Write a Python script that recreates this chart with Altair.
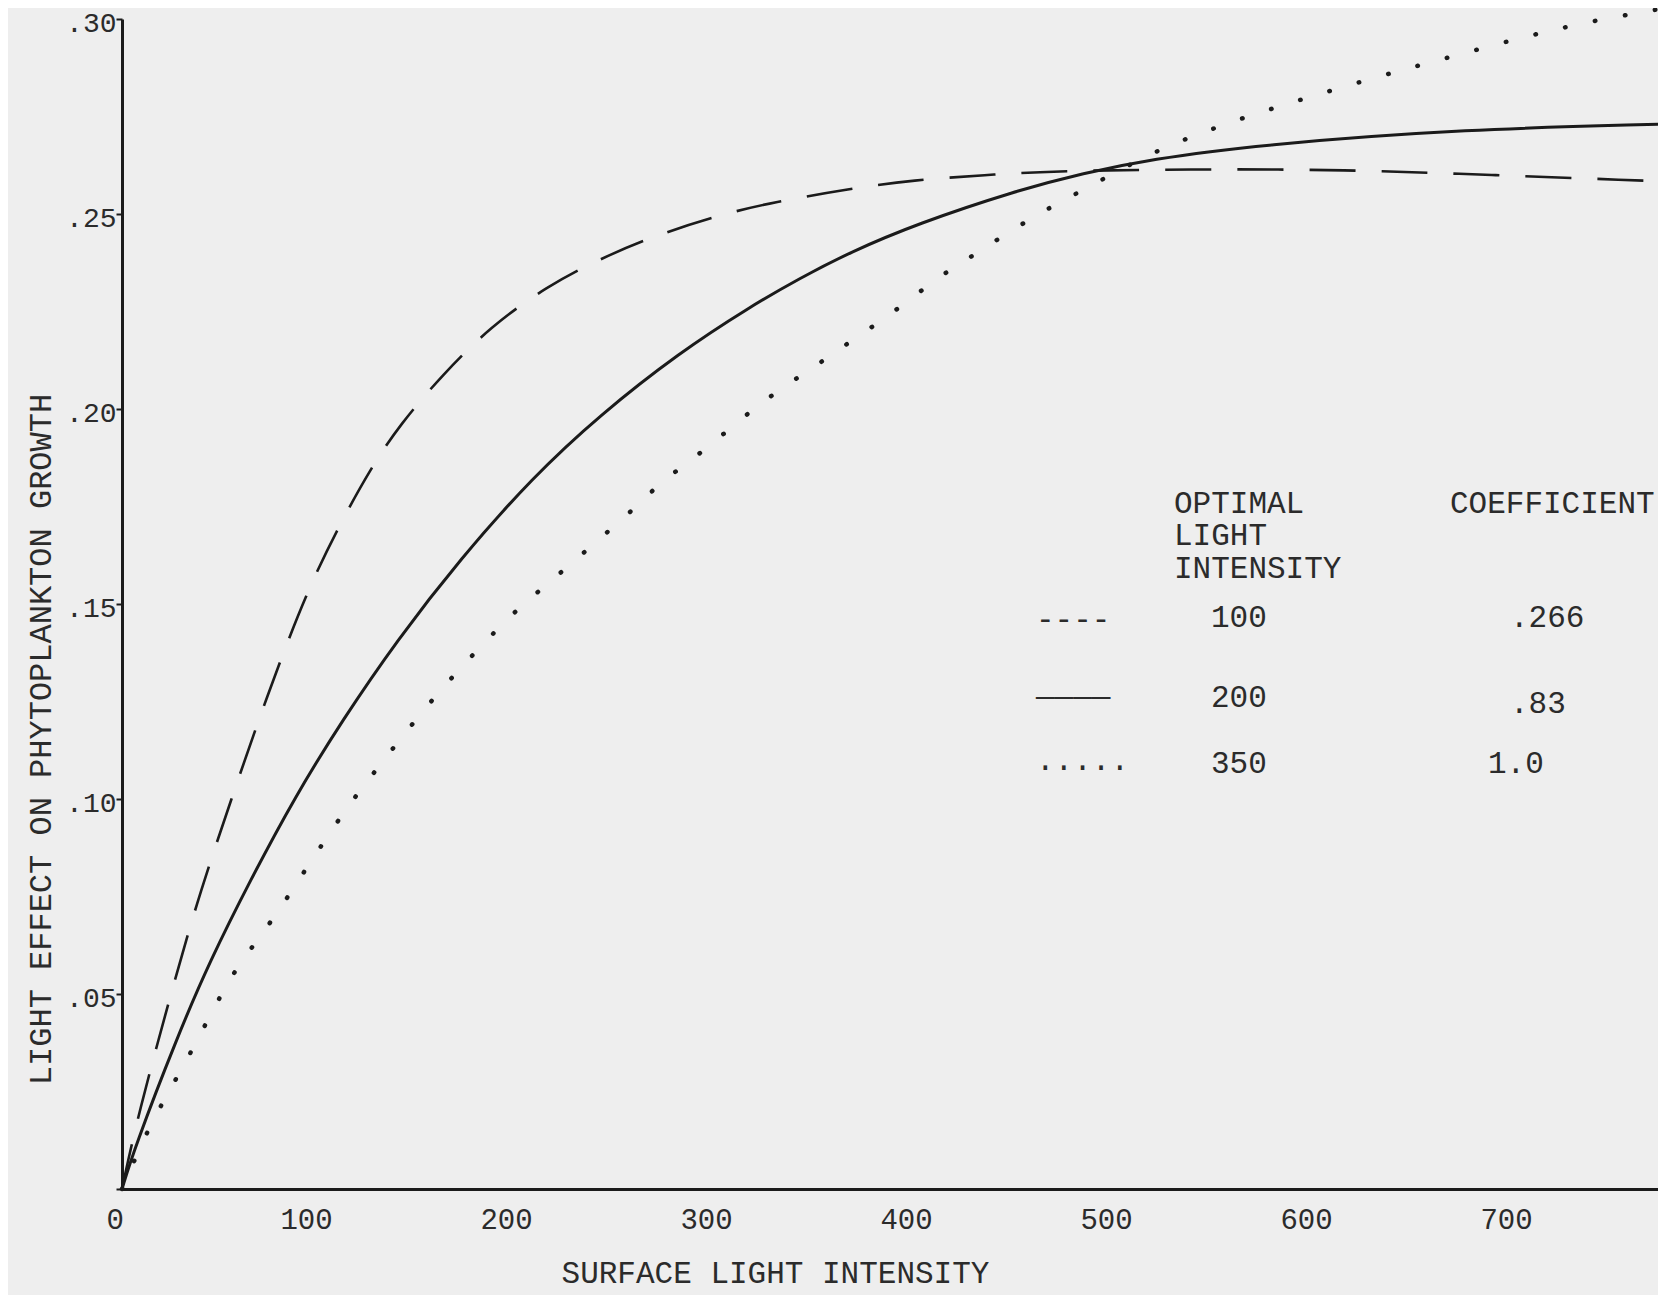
import altair as alt
import pandas as pd

# ---- data ----
# optimal light intensity 200 (solid)
solid_x = [0, 5.9, 27.6, 44.0, 64.0, 86.5, 110.3, 137.5, 169.0, 205.5, 239.0, 278.8, 314.0, 338.8, 364.0, 397.5, 447.2, 480.7, 514.2, 567.0, 673.5, 768]
solid_y = [0, 0.010, 0.039, 0.0585, 0.0790, 0.1006, 0.1203, 0.1407, 0.1615, 0.1826, 0.1985, 0.2145, 0.2262, 0.2335, 0.2402, 0.2475, 0.2560, 0.2605, 0.2640, 0.2677, 0.2718, 0.2730]

# optimal light intensity 100 (dashed)
dash_x = [0, 7.5, 27.6, 39.0, 54.0, 72.5, 92.6, 109.0, 124.0, 138.9, 160.6, 184.0, 212.5, 239.0, 265.5, 300.4, 325.5, 364.0, 395.5, 432.4, 462.5, 533.0, 612.0, 684.6, 759.0, 768]
dash_y = [0, 0.018, 0.056, 0.076, 0.099, 0.1265, 0.1535, 0.1705, 0.1845, 0.1960, 0.2090, 0.2210, 0.2315, 0.2385, 0.2443, 0.2500, 0.2530, 0.2565, 0.2587, 0.2600, 0.2610, 0.2615, 0.2614, 0.2600, 0.2586, 0.2584]

# optimal light intensity 350 (dotted)
dot_x = [0, 13.0, 23.5, 35.5, 48.3, 58.0, 75.5, 92.6, 111.3, 121.2, 143.8, 164.0, 188.0, 200.0, 215.7, 244.0, 258.1, 270.5, 288.0, 316.5, 333.0, 349.0, 362.5, 387.5, 408.0, 424.5, 443.5, 461.5, 481.5, 513.5, 535.5, 560.0, 588.5, 629.0, 664.5, 702.0, 737.0, 761.0, 768]
dot_y = [0, 0.0154, 0.025, 0.036, 0.0487, 0.0574, 0.069, 0.0826, 0.097, 0.1036, 0.1185, 0.1308, 0.1438, 0.1497, 0.1564, 0.169, 0.1754, 0.1818, 0.188, 0.2005, 0.2064, 0.2118, 0.2167, 0.2254, 0.2338, 0.239, 0.2454, 0.251, 0.2564, 0.2654, 0.2700, 0.2746, 0.2792, 0.2854, 0.2903, 0.2956, 0.2997, 0.3018, 0.3025]

x_ticks = [0, 100, 200, 300, 400, 500, 600, 700]
y_ticks = [0, 0.05, 0.10, 0.15, 0.20, 0.25, 0.30]

x_title = "SURFACE LIGHT INTENSITY"
y_title = "LIGHT EFFECT ON PHYTOPLANKTON GROWTH"

legend_header_left = ["OPTIMAL", "LIGHT", "INTENSITY"]
legend_header_right = ["COEFFICIENT"]
legend_glyphs = ["----", "————", "....."]
legend_light = ["100", "200", "350"]
legend_coef = [".266", ".83", "1.0"]

# ---- style / layout ----
INK = "#1b1b1b"
TXT = "#2b2b2b"
BG = "#eeeeee"
FONT = "Liberation Mono"
W, H = 1536, 1170

xs = alt.Scale(domain=[0, 768], nice=False, zero=False)
ys = alt.Scale(domain=[0, 0.30], nice=False)


def line_layer(xv, yv, **mk):
    df = pd.DataFrame({"x": xv, "y": yv})
    return alt.Chart(df).mark_line(color=INK, interpolate="basis", clip=False, **mk).encode(
        x=alt.X("x:Q", scale=xs, axis=alt.Axis(
            values=x_ticks, format="d", title=x_title, grid=False,
            tickSize=0, labelPadding=16, labelFontSize=29, labelFont=FONT,
            labelColor=TXT, labelBaseline="top", labelOffset=-16,
            titleFont=FONT, titleFontSize=31, titleFontWeight="normal", titleColor=TXT,
            titleX=653, titleY=84, titleBaseline="middle", titleAlign="center",
            domainColor=INK, domainWidth=3)),
        y=alt.Y("y:Q", scale=ys, axis=alt.Axis(
            values=y_ticks, grid=False,
            labelExpr="datum.value == 0 ? '' : substring(format(datum.value, '.2f'), 1)",
            tickSize=6, tickWidth=2, tickColor=INK, labelPadding=0, labelOffset=4,
            labelFontSize=28, labelFont=FONT, labelColor=TXT,
            title=y_title, titleFont=FONT, titleFontSize=32, titleFontWeight="normal",
            titleColor=TXT, titleX=-82, titleY=720, titleAngle=-90,
            titleBaseline="middle", titleAlign="center",
            domainColor=INK, domainWidth=3)),
    )


solid = line_layer(solid_x, solid_y, strokeWidth=3)
dashed = line_layer(dash_x, dash_y, strokeWidth=2.6, strokeDash=[46, 26])
dotted = line_layer(dot_x, dot_y, strokeWidth=4.5, strokeDash=[0.5, 30], strokeCap="round")


def text_layer(txt, px, py, size=31, align="left"):
    df = pd.DataFrame({"t": [txt]})
    return alt.Chart(df).mark_text(
        font=FONT, fontSize=size, color=TXT, align=align, baseline="alphabetic"
    ).encode(x=alt.value(px), y=alt.value(py), text="t:N")


texts = []
hdr_y = [494, 526, 559]
for i, t in enumerate(legend_header_left):
    texts.append(text_layer(t, 1052, hdr_y[i]))
texts.append(text_layer(legend_header_right[0], 1328, 494))

row_glyph_y = [610, 687, 751]
row_light_y = [608, 688, 754]
row_coef = [(1388, 608), (1388, 694), (1366, 754)]
for i in range(3):
    texts.append(text_layer(legend_glyphs[i], 914, row_glyph_y[i]))
    texts.append(text_layer(legend_light[i], 1089, row_light_y[i]))
    texts.append(text_layer(legend_coef[i], row_coef[i][0], row_coef[i][1]))

chart = alt.layer(solid, dashed, dotted, *texts).properties(
    width=W, height=H,
    autosize=alt.AutoSizeParams(type="none"),
    padding={"left": 114, "top": 11, "right": 0, "bottom": 106},
    background=BG,
).configure_view(stroke=None)

chart.save("out.html", embed_options={"renderer": "svg", "actions": False})
